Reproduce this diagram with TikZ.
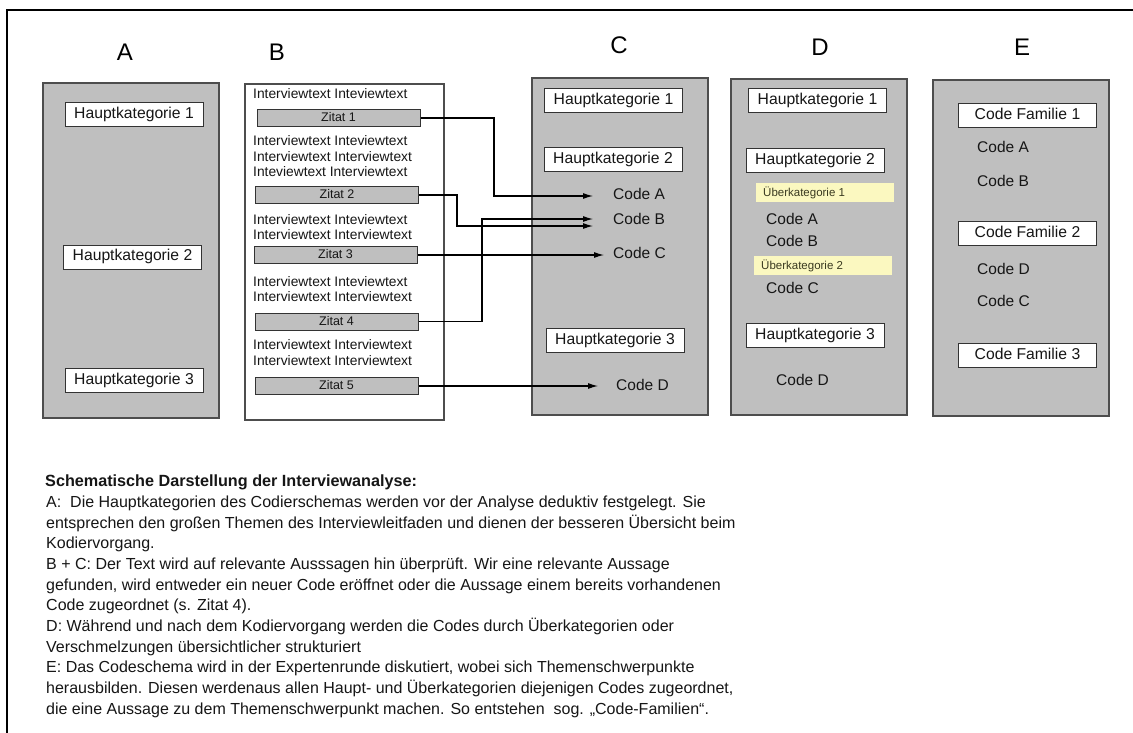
\documentclass[tikz,border=0pt]{standalone}
\usepackage{fontspec}
\setmainfont{Liberation Sans}
\usetikzlibrary{arrows.meta,calc}
\definecolor{panelgray}{HTML}{BFBFBF}
\definecolor{edgegray}{HTML}{4D4D4D}
\definecolor{uberyellow}{HTML}{FBF8C0}
\definecolor{ubertext}{HTML}{3A3A20}
\definecolor{txt}{HTML}{161616}
\begin{document}
\begin{tikzpicture}[x=1pt,y=-1pt,
 panel/.style={draw=edgegray,fill=panelgray,line width=1.1pt,inner sep=0pt},
 whitepanel/.style={draw=edgegray,fill=white,line width=1.1pt,inner sep=0pt},
 hk/.style={draw=black!80,fill=white,line width=1pt,minimum width=138pt,minimum height=24pt,inner sep=0pt,font=\fontsize{15.7}{18}\selectfont,text=txt,text height=0.72em,text depth=0pt},
 zitat/.style={draw=black!80,fill=panelgray,line width=1pt,minimum width=163pt,minimum height=17pt,inner sep=0pt,font=\fontsize{12.5}{15}\selectfont,text=txt,text height=0.72em,text depth=0pt},
 code/.style={anchor=west,inner sep=0pt,font=\fontsize{15.5}{18}\selectfont,text=txt,text height=0.72em,text depth=0pt},
 itxt/.style={anchor=west,inner sep=0pt,font=\fontsize{13.8}{16}\selectfont,text=txt,text height=0.72em,text depth=0pt},
 hdr/.style={inner sep=0pt,font=\fontsize{24}{28}\selectfont,text height=0.72em,text depth=0pt},
 uber/.style={fill=uberyellow,minimum width=138pt,minimum height=19pt,inner sep=0pt},
 ubertxt/.style={anchor=west,inner sep=0pt,font=\fontsize{11.5}{13}\selectfont,text=ubertext,text height=0.72em,text depth=0pt},
 btxt/.style={anchor=west,inner sep=0pt,font=\fontsize{16}{19}\selectfont,text=txt,text height=0.72em,text depth=0pt},
 arr/.style={draw=black,line width=1.1pt,-{Latex[length=10pt,width=6pt]}},
]
\useasboundingbox (0,0) rectangle (1133,733);
\fill[white] (0,0) rectangle (1133,733);
\draw[line width=1.2pt] (7,733) -- (7,10) -- (1133,10);

% headers
\node[hdr] (hA) at (125,57) {A};
\node[hdr] (hB) at (277,57) {B};
\node[hdr] (hC) at (619,50) {C};
\node[hdr] (hD) at (820,52) {D};
\node[hdr] (hE) at (1022,52) {E};

% panel A
\node[panel,minimum width=176pt,minimum height=335pt] (pA) at (131,250.5) {};
\node[hk] (a1) at (134,115) {Hauptkategorie 1};
\node[hk] (a2) at (132.5,257) {Hauptkategorie 2};
\node[hk] (a3) at (134,380.5) {Hauptkategorie 3};

% panel B
\node[whitepanel,minimum width=199pt,minimum height=336pt] (pB) at (344.5,252) {};
\node[itxt] (b1) at (253,95) {Interviewtext Inteviewtext};
\node[zitat] (z1) at (338.5,118) {Zitat 1};
\node[itxt] (b2) at (253,142) {Interviewtext Inteviewtext};
\node[itxt] (b3) at (253,158) {Interviewtext Interviewtext};
\node[itxt] (b4) at (253,173) {Inteviewtext Interviewtext};
\node[zitat] (z2) at (337,195) {Zitat 2};
\node[itxt] (b5) at (253,221) {Interviewtext Inteviewtext};
\node[itxt] (b6) at (253,236) {Interviewtext Interviewtext};
\node[zitat] (z3) at (335.5,255) {Zitat 3};
\node[itxt] (b7) at (253,283) {Interviewtext Inteviewtext};
\node[itxt] (b8) at (253,298) {Interviewtext Interviewtext};
\node[zitat] (z4) at (336.5,321.5) {Zitat 4};
\node[itxt] (b9) at (253,346) {Interviewtext Interviewtext};
\node[itxt] (b10) at (253,362) {Interviewtext Interviewtext};
\node[zitat] (z5) at (336.5,386) {Zitat 5};

% panel C
\node[panel,minimum width=176pt,minimum height=337pt] (pC) at (620,246.5) {};
\node[hk] (c1) at (613.5,100.5) {Hauptkategorie 1};
\node[hk] (c2) at (613,160) {Hauptkategorie 2};
\node[code] (cA) at (613,196) {Code A};
\node[code] (cB) at (613,221) {Code B};
\node[code] (cC) at (613,255) {Code C};
\node[hk] (c3) at (615,340.5) {Hauptkategorie 3};
\node[code] (cD) at (616,387) {Code D};

% panel D
\node[panel,minimum width=176pt,minimum height=336pt] (pD) at (819,247) {};
\node[hk] (d1) at (817.5,101) {Hauptkategorie 1};
\node[hk] (d2) at (815,160.5) {Hauptkategorie 2};
\node[uber] (u1) at (825,192.5) {};
\node[ubertxt] (u1t) at (763,192.5) {Überkategorie 1};
\node[code] (dA) at (766,221) {Code A};
\node[code] (dB) at (766,243) {Code B};
\node[uber] (u2) at (823,265.5) {};
\node[ubertxt] (u2t) at (761,265.5) {Überkategorie 2};
\node[code] (dC) at (766,290) {Code C};
\node[hk] (d3) at (815,335.5) {Hauptkategorie 3};
\node[code] (dD) at (776,382) {Code D};

% panel E
\node[panel,minimum width=176pt,minimum height=336pt] (pE) at (1021,248) {};
\node[hk] (e1) at (1027.5,116) {Code Familie 1};
\node[code] (eA) at (977,149) {Code A};
\node[code] (eB) at (977,183) {Code B};
\node[hk] (e2) at (1027.5,233.5) {Code Familie 2};
\node[code] (eD) at (977,271) {Code D};
\node[code] (eC) at (977,303) {Code C};
\node[hk] (e3) at (1027.5,355.5) {Code Familie 3};

% connectors
\draw[arr] (z1.east) -| ([xshift=-119pt]cA.west) -- ([xshift=-20pt]cA.west);
\draw[arr] (z2.east) -| ([xshift=-156pt,yshift=-5pt]cB.west) -- ([xshift=-20pt,yshift=-5pt]cB.west);
\draw[arr] (z4.east) -| ([xshift=-131pt,yshift=2pt]cB.west) -- ([xshift=-20pt,yshift=2pt]cB.west);
\draw[arr] (z3.east) -- ([xshift=-9pt]cC.west |- z3.east);
\draw[arr] (z5.east) -- ([xshift=-18pt]cD.west |- z5.east);

% description
\node[btxt,font=\fontsize{16.2}{19}\selectfont\bfseries] (t1) at (45,483) {Schematische Darstellung der Interviewanalyse:};
\node[btxt] (t2) at (46,503.7) {A:\ \ Die Hauptkategorien des Codierschemas werden vor der Analyse deduktiv festgelegt. Sie};
\node[btxt] (t3) at (46,524.4) {entsprechen den großen Themen des Interviewleitfaden und dienen der besseren Übersicht beim};
\node[btxt] (t4) at (46,545.1) {Kodiervorgang.};
\node[btxt] (t5) at (46,565.8) {B + C: Der Text wird auf relevante Ausssagen hin überprüft. Wir eine relevante Aussage};
\node[btxt] (t6) at (46,586.5) {gefunden, wird entweder ein neuer Code eröffnet oder die Aussage einem bereits vorhandenen};
\node[btxt] (t7) at (46,607.2) {Code zugeordnet (s. Zitat 4).};
\node[btxt] (t8) at (46,627.9) {D: Während und nach dem Kodiervorgang werden die Codes durch Überkategorien oder};
\node[btxt] (t9) at (46,648.6) {Verschmelzungen übersichtlicher strukturiert};
\node[btxt] (t10) at (46,669.3) {E: Das Codeschema wird in der Expertenrunde diskutiert, wobei sich Themenschwerpunkte};
\node[btxt] (t11) at (46,690) {herausbilden. Diesen werdenaus allen Haupt- und Überkategorien diejenigen Codes zugeordnet,};
\node[btxt] (t12) at (46,710.7) {die eine Aussage zu dem Themenschwerpunkt machen. So entstehen\ \ sog. „Code-Familien“.};
\end{tikzpicture}
\end{document}
